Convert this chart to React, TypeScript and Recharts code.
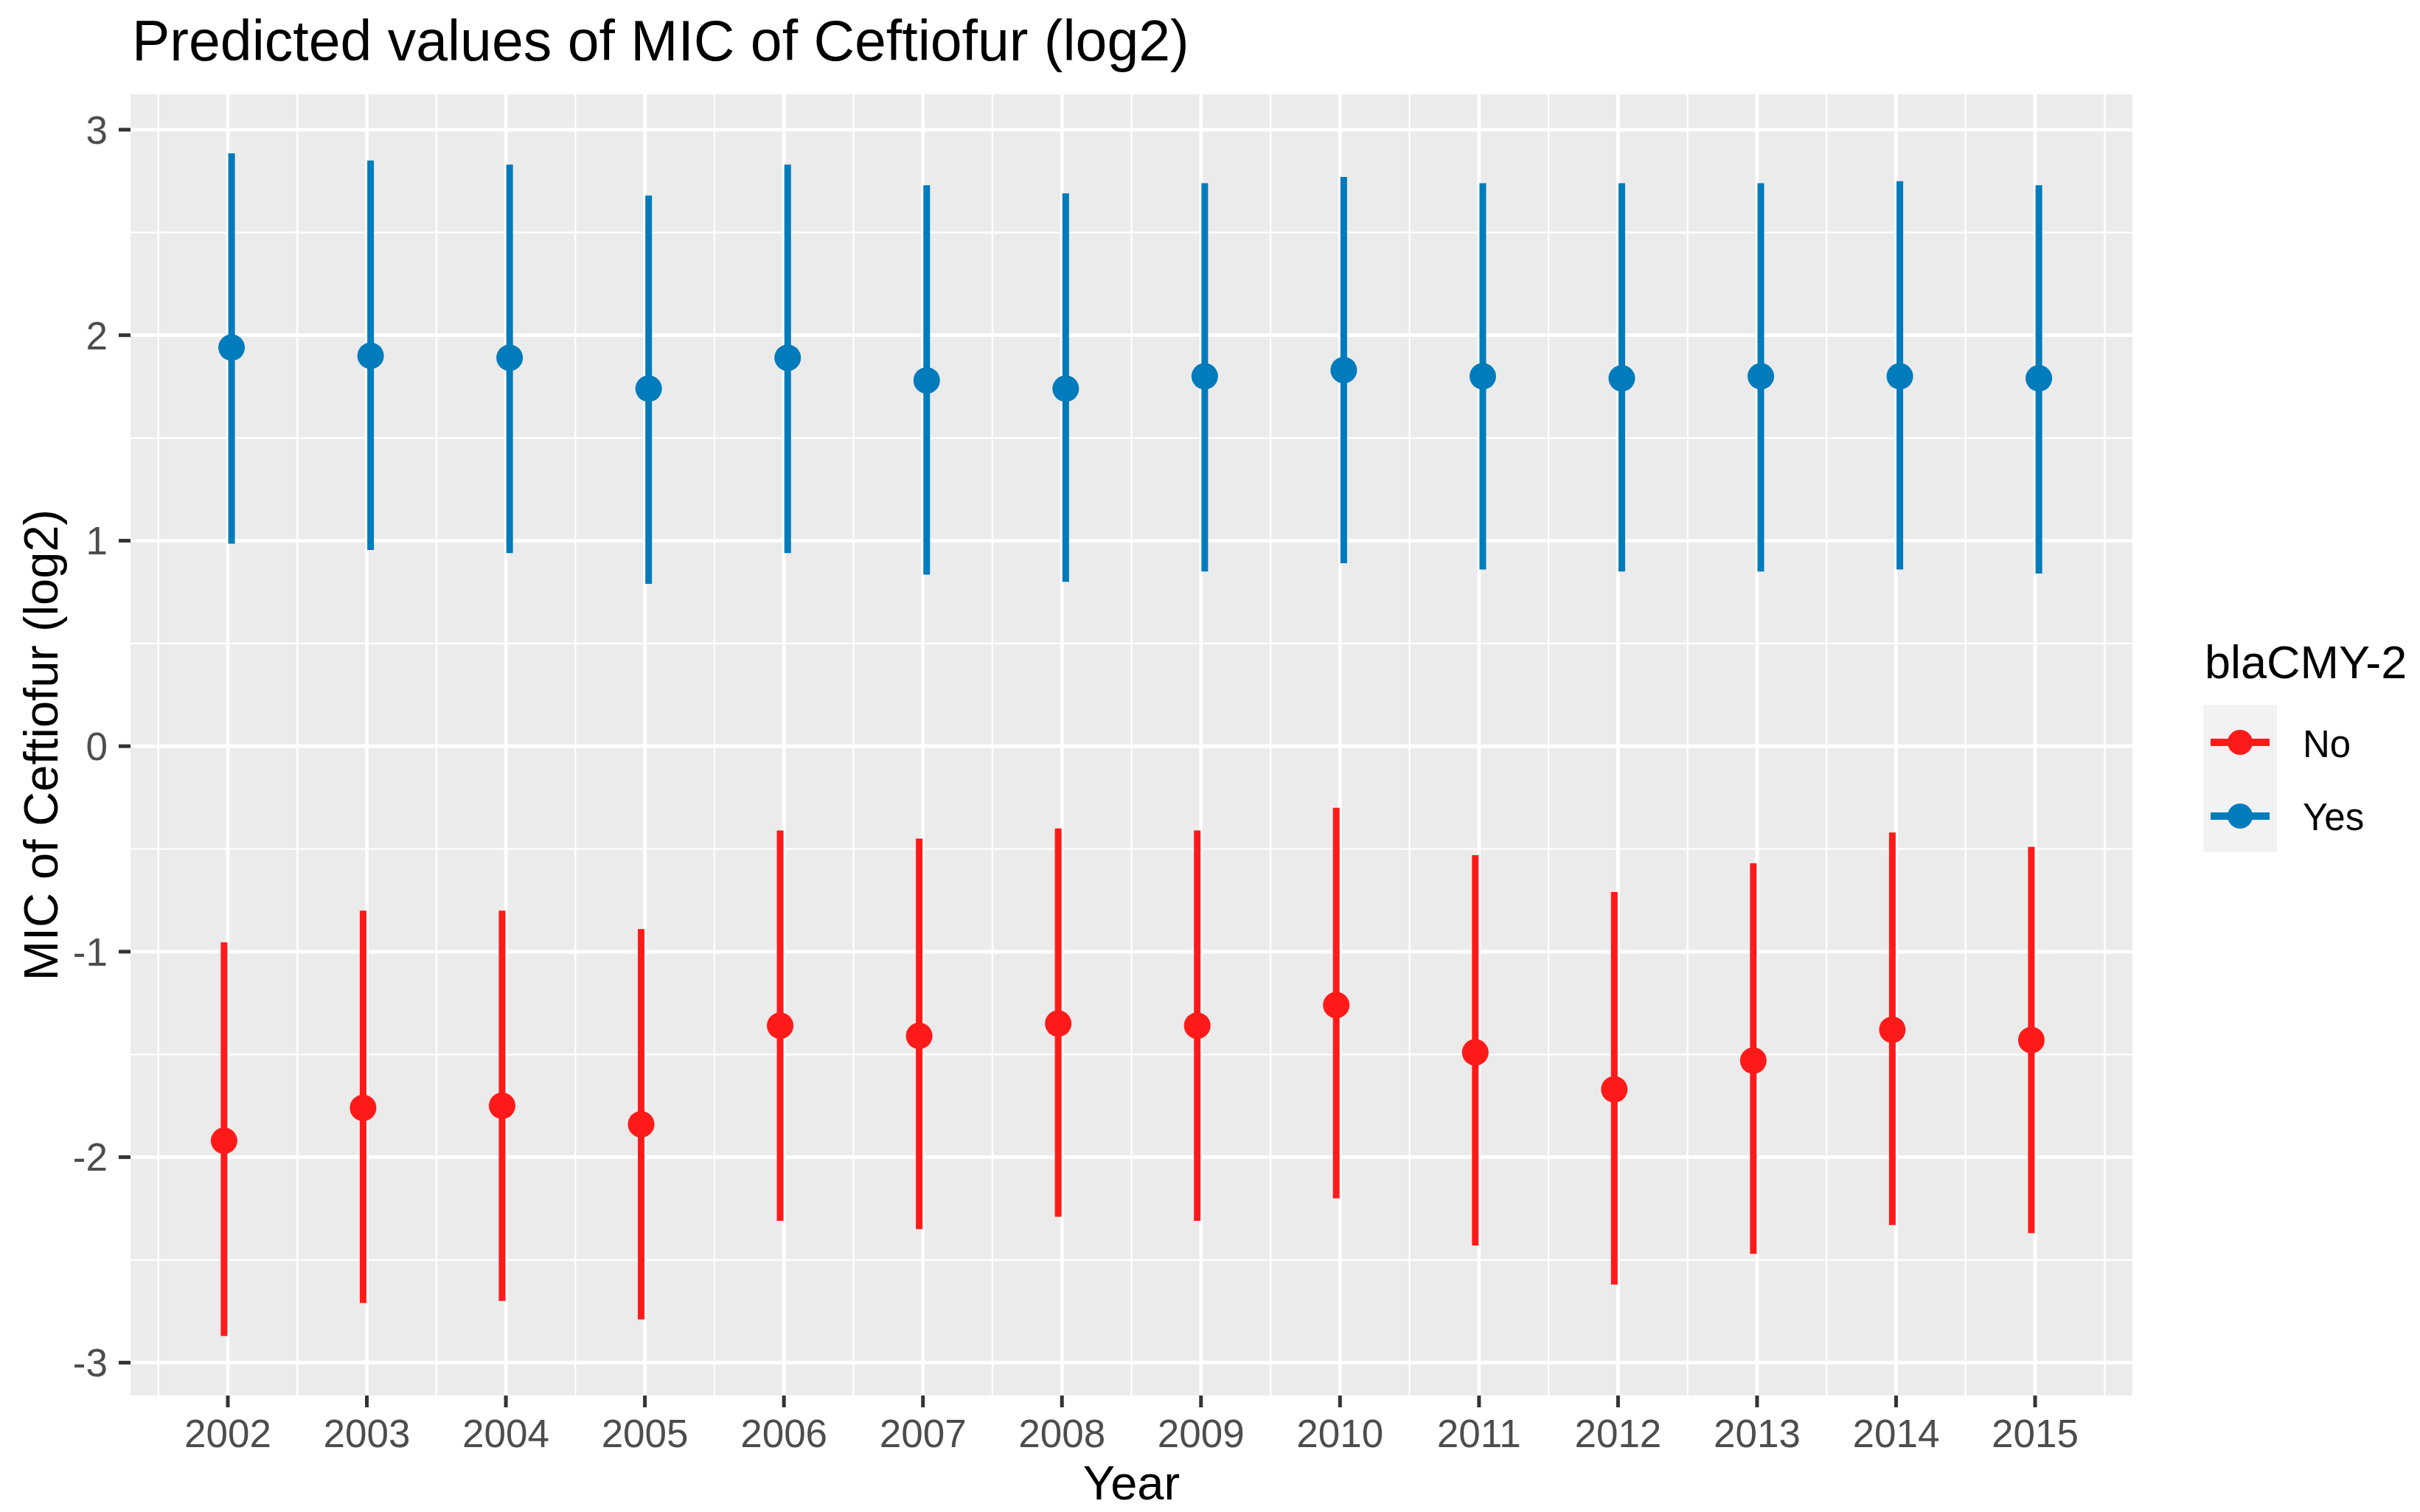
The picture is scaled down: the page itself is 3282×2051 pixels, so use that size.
import React from "react";
import {
  ComposedChart,
  Scatter,
  XAxis,
  YAxis,
  CartesianGrid,
  ErrorBar,
  Legend,
} from "recharts";

const years = [2002, 2003, 2004, 2005, 2006, 2007, 2008, 2009, 2010, 2011, 2012, 2013, 2014, 2015];

// blaCMY-2 = No
const noEstimate = [-1.92, -1.76, -1.75, -1.84, -1.36, -1.41, -1.35, -1.36, -1.26, -1.49, -1.67, -1.53, -1.38, -1.43];
const noLower = [-2.87, -2.71, -2.7, -2.79, -2.31, -2.35, -2.29, -2.31, -2.2, -2.43, -2.62, -2.47, -2.33, -2.37];
const noUpper = [-0.955, -0.8, -0.8, -0.89, -0.41, -0.45, -0.4, -0.41, -0.3, -0.53, -0.71, -0.57, -0.42, -0.49];

// blaCMY-2 = Yes
const yesEstimate = [1.94, 1.9, 1.89, 1.74, 1.89, 1.78, 1.74, 1.8, 1.83, 1.8, 1.79, 1.8, 1.8, 1.79];
const yesLower = [0.985, 0.955, 0.94, 0.79, 0.94, 0.835, 0.8, 0.85, 0.89, 0.86, 0.85, 0.85, 0.86, 0.84];
const yesUpper = [2.885, 2.85, 2.83, 2.68, 2.83, 2.73, 2.69, 2.74, 2.77, 2.74, 2.74, 2.74, 2.75, 2.73];

const yTicks = [-3, -2, -1, 0, 1, 2, 3];

const RED = "#FF1A1A";
const BLUE = "#007BBB";
const FONT = "'Liberation Sans', Arial, sans-serif";
const DODGE = 0.027;

const build = (est: number[], lo: number[], hi: number[], shift: number) =>
  years.map((yr, i) => ({
    x: yr + shift,
    y: est[i],
    err: [est[i] - lo[i], hi[i] - est[i]],
  }));

const noData = build(noEstimate, noLower, noUpper, -DODGE);
const yesData = build(yesEstimate, yesLower, yesUpper, DODGE);

const minorX = years.slice(0, -1).map((y) => y + 0.5).concat([years[0] - 0.5, years[years.length - 1] + 0.5]);
const minorY = yTicks.slice(0, -1).map((v) => v + 0.5);

const dot = (color: string) => (p: any) => <circle cx={p.cx} cy={p.cy} r={18} fill={color} />;

const LegendBox = () => (
  <svg width={300} height={320} style={{ fontFamily: FONT }}>
    <text x={10} y={70} fontSize={63} fill="#000">blaCMY-2</text>
    <rect x={8} y={106} width={100} height={200} fill="#F2F2F2" />
    <line x1={18} x2={98} y1={157} y2={157} stroke={RED} strokeWidth={10} />
    <circle cx={58} cy={157} r={17} fill={RED} />
    <text x={143} y={177} fontSize={51} fill="#000">No</text>
    <line x1={18} x2={98} y1={257} y2={257} stroke={BLUE} strokeWidth={10} />
    <circle cx={58} cy={257} r={17} fill={BLUE} />
    <text x={143} y={276} fontSize={51} fill="#000">Yes</text>
  </svg>
);

export default function App() {
  return (
    <div style={{ position: "absolute", left: 0, top: 0, width: 3282, height: 2051, background: "#fff", fontFamily: FONT }}>
      <div style={{ position: "absolute", left: 179, top: 17, fontSize: 77, lineHeight: "77px", color: "#000", whiteSpace: "nowrap" }}>
        Predicted values of MIC of Ceftiofur (log2)
      </div>
      <ComposedChart
        width={3282}
        height={2051}
        margin={{ top: 128, right: 390, bottom: 0, left: 0 }}
        style={{ fontFamily: FONT }}
      >
        <CartesianGrid
          horizontalValues={minorY}
          verticalValues={minorX}
          stroke="#FFFFFF"
          strokeWidth={2.3}
          fill="#EBEBEB"
        />
        <CartesianGrid
          horizontalValues={yTicks}
          verticalValues={years}
          stroke="#FFFFFF"
          strokeWidth={4.7}
        />
        <XAxis
          type="number"
          dataKey="x"
          domain={[2001.3, 2015.7]}
          allowDataOverflow
          ticks={years}
          interval={0}
          height={158}
          axisLine={false}
          tickSize={16}
          tickMargin={16}
          tickLine={{ stroke: "#333333", strokeWidth: 5 }}
          tick={{ fill: "#4D4D4D", fontSize: 53, fontFamily: FONT }}
          label={(props: any) => {
            const vb = props.viewBox;
            return (
              <text x={vb.x + vb.width / 2} y={vb.y + 141} textAnchor="middle" fontSize={65} fill="#000" fontFamily={FONT}>
                Year
              </text>
            );
          }}
        />
        <YAxis
          type="number"
          dataKey="y"
          domain={[-3.16, 3.172]}
          allowDataOverflow
          ticks={yTicks}
          interval={0}
          width={177}
          axisLine={false}
          tickSize={16}
          tickMargin={15}
          tickLine={{ stroke: "#333333", strokeWidth: 5 }}
          tick={{ fill: "#4D4D4D", fontSize: 53, fontFamily: FONT }}
          label={(props: any) => {
            const vb = props.viewBox;
            const cy = vb.y + vb.height / 2;
            return (
              <text x={78} y={cy} transform={`rotate(-90, 78, ${cy})`} textAnchor="middle" fontSize={65} fill="#000" fontFamily={FONT}>
                MIC of Ceftiofur (log2)
              </text>
            );
          }}
        />
        <Scatter name="No" data={noData} fill={RED} shape={dot(RED)} isAnimationActive={false}>
          <ErrorBar dataKey="err" direction="y" width={0} stroke={RED} strokeWidth={9} isAnimationActive={false} />
        </Scatter>
        <Scatter name="Yes" data={yesData} fill={BLUE} shape={dot(BLUE)} isAnimationActive={false}>
          <ErrorBar dataKey="err" direction="y" width={0} stroke={BLUE} strokeWidth={9} isAnimationActive={false} />
        </Scatter>
        <Legend
          layout="vertical"
          align="center"
          verticalAlign="middle"
          content={() => <LegendBox />}
          wrapperStyle={{ left: 2980, top: 850, width: 300, height: 320, margin: 0 }}
        />
      </ComposedChart>
    </div>
  );
}
